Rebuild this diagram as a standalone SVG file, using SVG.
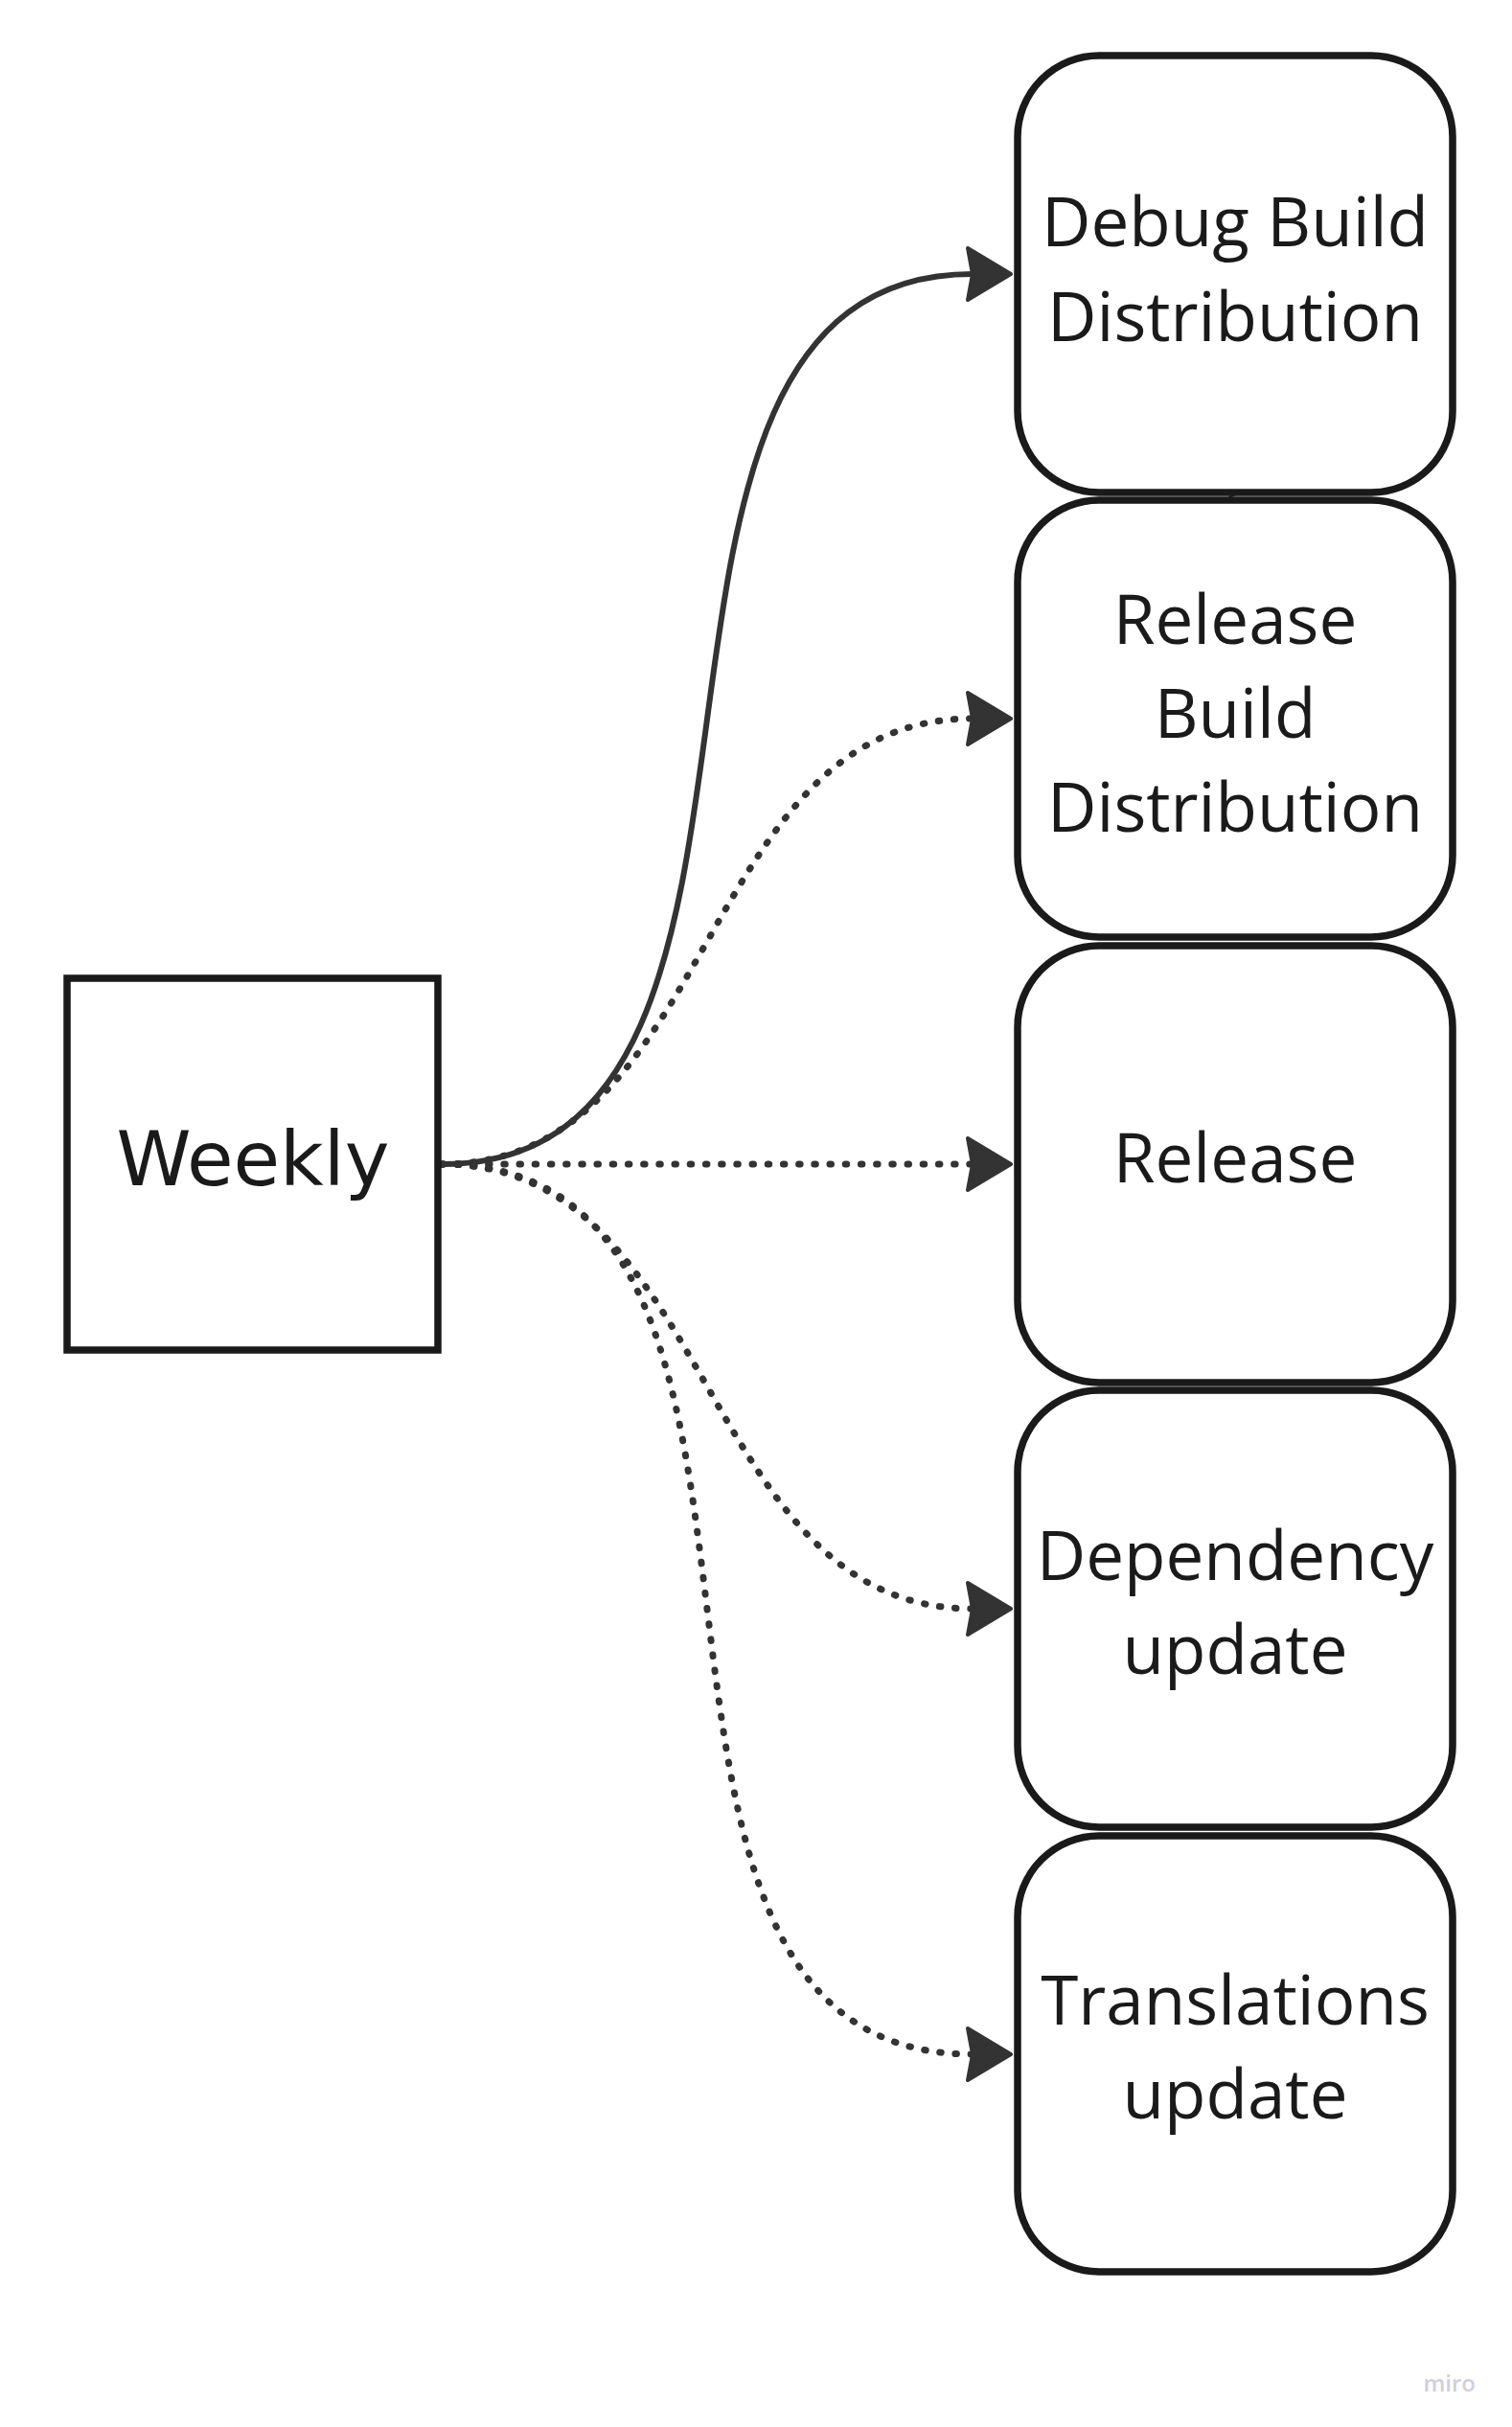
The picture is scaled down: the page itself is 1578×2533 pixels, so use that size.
<svg xmlns="http://www.w3.org/2000/svg" width="1578" height="2533" viewBox="0 0 1578 2533">
<style>
.box{fill:#ffffff;stroke:#1a1a1a;stroke-width:7.5}
.lbl{font-family:"Open Sans","Liberation Sans",sans-serif;font-size:71px;fill:#1a1a1a;text-anchor:middle}
.conn{fill:none;stroke:#333333;stroke-width:6}
.dot{stroke-width:7;stroke-dasharray:1.5 14.7;stroke-linecap:round}
.head{fill:#333333;stroke:#333333;stroke-width:4;stroke-linejoin:round}
</style>
<defs>
<polygon id="ah" points="0,0 -45,-27 -40,0 -45,27"/>
</defs>
<rect width="1578" height="2533" fill="#ffffff"/>
<g id="connectors">
<path class="conn" d="M461,1215 C891,1215 585,286 1015,286"/>
<path class="conn dot" d="M461,1215 C751,1215 725,750 1015,750"/>
<path class="conn dot" d="M461,1215 L1015,1215"/>
<path class="conn dot" d="M461,1215 C749,1215 727,1679 1015,1679"/>
<path class="conn dot" d="M461,1215 C901,1215 575,2144 1015,2144"/>
<use href="#ah" class="head" x="1055" y="286"/>
<use href="#ah" class="head" x="1055" y="750"/>
<use href="#ah" class="head" x="1055" y="1215"/>
<use href="#ah" class="head" x="1055" y="1679"/>
<use href="#ah" class="head" x="1055" y="2144"/>
<polygon points="1290,517 1281,513 1283,517 1281,521" fill="#333333"/>
</g>
<g id="weekly">
<rect class="box" x="70" y="1021" width="387" height="388"/>
<text x="264" y="1237" font-family="DejaVu Sans, Verdana, sans-serif" font-size="79" fill="#1a1a1a" text-anchor="middle">Weekly</text>
</g>
<g id="debug-build-distribution">
<rect class="box" x="1062" y="58" width="454" height="456" rx="85" ry="85"/>
<text class="lbl" x="1289" y="257">Debug Build</text>
<text class="lbl" x="1289" y="356">Distribution</text>
</g>
<g id="release-build-distribution">
<rect class="box" x="1062" y="522" width="454" height="456" rx="85" ry="85"/>
<text class="lbl" x="1289" y="672">Release</text>
<text class="lbl" x="1289" y="770">Build</text>
<text class="lbl" x="1289" y="868">Distribution</text>
</g>
<g id="release">
<rect class="box" x="1062" y="987" width="454" height="456" rx="85" ry="85"/>
<text class="lbl" x="1289" y="1234">Release</text>
</g>
<g id="dependency-update">
<rect class="box" x="1062" y="1451" width="454" height="456" rx="85" ry="85"/>
<text class="lbl" x="1289" y="1649">Dependency</text>
<text class="lbl" x="1289" y="1747">update</text>
</g>
<g id="translations-update">
<rect class="box" x="1062" y="1916" width="454" height="455" rx="85" ry="85"/>
<text class="lbl" x="1289" y="2113">Translations</text>
<text class="lbl" x="1289" y="2211">update</text>
</g>
<text x="1540" y="2496" font-family="Open Sans, Liberation Sans, sans-serif" font-size="24" font-weight="600" fill="#cfcfdc" text-anchor="end">miro</text>
</svg>
